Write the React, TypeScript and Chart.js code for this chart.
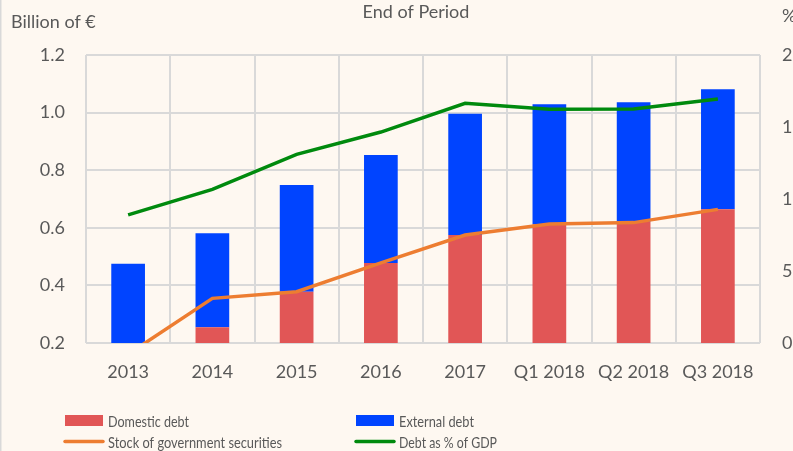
import React, { useEffect, useRef } from "react";
import { Chart, registerables } from "chart.js";

Chart.register(...registerables);

const categories = ["2013", "2014", "2015", "2016", "2017", "Q1 2018", "Q2 2018", "Q3 2018"];
const domesticDebt = [0.195, 0.255, 0.378, 0.478, 0.575, 0.612, 0.621, 0.664];
const externalDebt = [0.28, 0.326, 0.371, 0.375, 0.421, 0.417, 0.415, 0.417];
const govSecurities = [0.161, 0.355, 0.378, 0.478, 0.575, 0.613, 0.618, 0.664];
const debtPctGdp = [8.9, 10.67, 13.1, 14.65, 16.65, 16.23, 16.25, 16.94];

const leftAxisRange = [0.2, 1.2, 0.2];
const rightAxisRange = [0, 20, 5];

const titleText = "End of Period";
const leftUnit = "Billion of €";
const rightUnit = "%";

const BG = "#FEF8F1";
const GRID = "#D9D9D9";
const TEXT = "#595959";
const FONT = "Lato, 'Open Sans', sans-serif";

const decorPlugin = {
  id: "decor",
  beforeDraw(chart: any) {
    const ctx = chart.ctx;
    ctx.save();
    ctx.fillStyle = BG;
    ctx.fillRect(0, 0, chart.width, chart.height);
    ctx.strokeStyle = GRID;
    ctx.lineWidth = 1.5;
    ctx.beginPath();
    ctx.moveTo(0.75, 0);
    ctx.lineTo(0.75, chart.height);
    ctx.stroke();
    ctx.restore();
  },
  afterDraw(chart: any) {
    const ctx = chart.ctx;
    ctx.save();
    ctx.fillStyle = TEXT;
    ctx.textBaseline = "alphabetic";
    ctx.font = `18px ${FONT}`;
    ctx.textAlign = "center";
    ctx.fillText(titleText, 416, 18);
    ctx.textAlign = "left";
    ctx.fillText(leftUnit, 11, 28);
    ctx.fillText(rightUnit, 782, 22);

    // legend (2 columns)
    const ds = chart.data.datasets;
    const cols = [65, 356];
    const rows = [420.5, 441.5];
    const widths = [81, 75, 174, 98];
    ctx.font = `16px ${FONT}`;
    ds.forEach((d: any, i: number) => {
      const col = cols[i % 2];
      const row = rows[Math.floor(i / 2)];
      if (d.type === "bar") {
        ctx.fillStyle = d.backgroundColor;
        ctx.fillRect(col, row - 5.5, 38, 11);
      } else {
        ctx.strokeStyle = d.borderColor;
        ctx.lineWidth = 3.5;
        ctx.lineCap = "round";
        ctx.beginPath();
        ctx.moveTo(col, row);
        ctx.lineTo(col + 38, row);
        ctx.stroke();
      }
      ctx.fillStyle = TEXT;
      ctx.fillText(d.label, col + 43, row + 6, widths[i]);
    });
    ctx.restore();
  },
};

export default function App() {
  const ref = useRef<HTMLCanvasElement | null>(null);

  useEffect(() => {
    document.body.style.margin = "0";
    document.body.style.background = BG;
    if (!ref.current) return;
    Chart.defaults.font.family = FONT;
    const chart = new Chart(ref.current, {
      type: "bar",
      data: {
        labels: categories,
        datasets: [
          {
            type: "bar",
            label: "Domestic debt",
            data: domesticDebt,
            backgroundColor: "#E15656",
            yAxisID: "y",
            stack: "debt",
            order: 2,
            barPercentage: 0.4,
            categoryPercentage: 1,
          },
          {
            type: "bar",
            label: "External debt",
            data: externalDebt,
            backgroundColor: "#0044FF",
            yAxisID: "y",
            stack: "debt",
            order: 2,
            barPercentage: 0.4,
            categoryPercentage: 1,
          },
          {
            type: "line",
            label: "Stock of government securities",
            data: govSecurities,
            borderColor: "#ED7D31",
            backgroundColor: "#ED7D31",
            borderWidth: 3.5,
            pointRadius: 0,
            tension: 0,
            yAxisID: "y",
            stack: "sec",
            order: 1,
          },
          {
            type: "line",
            label: "Debt as % of GDP",
            data: debtPctGdp,
            borderColor: "#008A0E",
            backgroundColor: "#008A0E",
            borderWidth: 3.5,
            pointRadius: 0,
            tension: 0,
            yAxisID: "y1",
            stack: "gdp",
            order: 1,
          },
        ] as any,
      },
      options: {
        animation: false,
        responsive: false,
        layout: { padding: { top: 55, left: 0, right: 0, bottom: 68 } },
        plugins: {
          legend: { display: false },
          title: { display: false },
          tooltip: { enabled: false },
        },
        scales: {
          x: {
            stacked: true,
            offset: true,
            grid: { display: true, offset: true, color: GRID, lineWidth: 2, drawTicks: false },
            border: { display: false },
            ticks: { color: TEXT, font: { size: 18, family: FONT }, padding: 18, maxRotation: 0, autoSkip: false },
            afterFit: (s: any) => { s.height = 40; },
          },
          y: {
            position: "left",
            stacked: true,
            min: leftAxisRange[0],
            max: leftAxisRange[1],
            grid: { color: GRID, lineWidth: 2, drawTicks: false },
            border: { display: false },
            ticks: {
              stepSize: leftAxisRange[2],
              color: TEXT,
              font: { size: 18, family: FONT },
              padding: 21,
              callback: (v: any) => Number(v).toFixed(1),
            },
            afterFit: (s: any) => { s.width = 86; },
          },
          y1: {
            position: "right",
            stacked: false,
            min: rightAxisRange[0],
            max: rightAxisRange[1],
            grid: { display: false, drawTicks: false },
            border: { display: false },
            ticks: {
              stepSize: rightAxisRange[2],
              color: TEXT,
              font: { size: 18, family: FONT },
              padding: 22,
            },
            afterFit: (s: any) => { s.width = 33; },
          },
        },
      } as any,
      plugins: [decorPlugin],
    });
    return () => chart.destroy();
  }, []);

  return <canvas ref={ref} width={793} height={451} style={{ display: "block" }} />;
}
